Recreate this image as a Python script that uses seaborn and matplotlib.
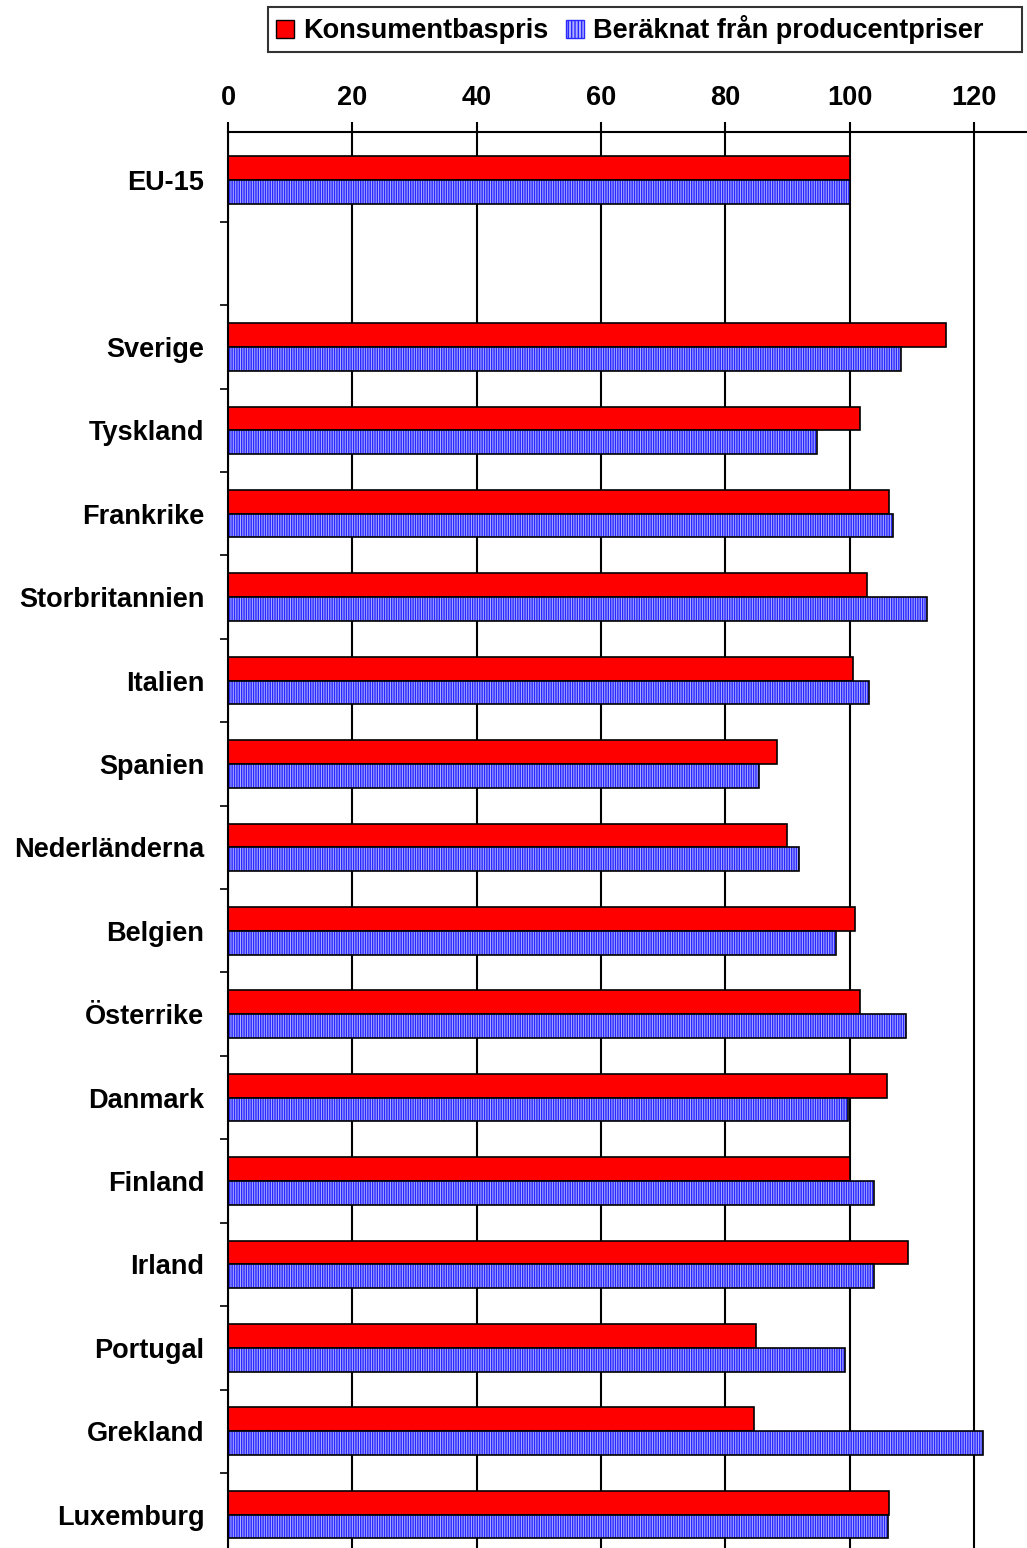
import numpy as np
import pandas as pd
import matplotlib.pyplot as plt
import matplotlib.patches as mpatches
import seaborn as sns

# ── DATA ─────────────────────────────────────────────────────
countries = ["EU-15", " ", "Sverige", "Tyskland", "Frankrike", "Storbritannien",
             "Italien", "Spanien", "Nederländerna", "Belgien", "Österrike",
             "Danmark", "Finland", "Irland", "Portugal", "Grekland", "Luxemburg"]
konsument = [100, np.nan, 115.5, 101.7, 106.3, 102.8, 100.5, 88.3, 89.9,
             100.9, 101.7, 106.0, 100.0, 109.4, 84.9, 84.6, 106.3]
producent = [100, np.nan, 108.3, 94.7, 107.0, 112.4, 103.1, 85.4, 91.8,
             97.8, 109.1, 99.7, 103.9, 103.9, 99.2, 121.4, 106.2]
series_names = ["Konsumentbaspris", "Beräknat från producentpriser"]
x_ticks = [0, 20, 40, 60, 80, 100, 120]

df = pd.DataFrame({
    "Land": countries * 2,
    "Serie": [series_names[0]] * len(countries) + [series_names[1]] * len(countries),
    "Index": konsument + producent,
})

sns.set_style("white")
plt.rcParams["font.family"] = ["Liberation Sans", "DejaVu Sans"]
plt.rcParams["font.weight"] = "bold"
plt.rcParams["text.color"] = "black"
plt.rcParams["xtick.color"] = "black"
plt.rcParams["ytick.color"] = "black"

FS = 19.5
BLUE_FACE = "#b0b0ff"
BLUE_HATCH = "#2828ff"

fig = plt.figure(figsize=(10.27, 15.48), dpi=100)
ax = fig.add_axes([228 / 1027, 0.0, 1 - 228 / 1027, 1 - 132 / 1548])

sns.barplot(data=df, y="Land", x="Index", hue="Serie", order=countries,
            hue_order=series_names, palette=["#ff0000", BLUE_FACE],
            width=0.57, dodge=True, orient="h", ax=ax, legend=False,
            saturation=1, edgecolor="black", linewidth=1.2)

# blue bars: vertical hatch + black outline on top
for p in list(ax.containers[1]):
    p.set_hatch("|||||||")
    p.set_edgecolor(BLUE_HATCH)
    p.set_linewidth(0)
    ax.add_patch(mpatches.Rectangle(p.get_xy(), p.get_width(), p.get_height(),
                                    fill=False, edgecolor="black", linewidth=1.2,
                                    zorder=p.get_zorder() + 0.1))

n = len(countries)
ax.set_xlim(0, 128.5)
ax.set_ylim(16.4, -0.576)
ax.set_xlabel("")
ax.set_ylabel("")

# x axis on top
ax.xaxis.tick_top()
ax.set_xticks(x_ticks)
ax.set_xticklabels([str(t) for t in x_ticks], fontsize=FS, fontweight="bold")
ax.tick_params(axis="x", direction="out", length=7, width=1.5, pad=8,
               top=True, bottom=False, colors="black")

# y ticks: labels at centers, marks at category borders
ax.set_yticks(range(n))
ax.set_yticklabels(countries, fontsize=FS, fontweight="bold")
ax.tick_params(axis="y", which="major", length=0, pad=17)
ax.set_yticks([i + 0.5 for i in range(n - 1)], minor=True)
ax.tick_params(axis="y", which="minor", direction="out", length=6, width=1.2,
               left=True, color="black")

ax.grid(True, axis="x", color="black", linewidth=1.5)
ax.grid(False, axis="y")
ax.set_axisbelow(True)

for side in ["right", "bottom"]:
    ax.spines[side].set_visible(False)
for side in ["top", "left"]:
    ax.spines[side].set_visible(True)
    ax.spines[side].set_color("black")
    ax.spines[side].set_linewidth(1.5)

# legend (box in the original has extra room on the right)
handles = [
    mpatches.Patch(facecolor="#ff0000", edgecolor="black", linewidth=1.0),
    mpatches.Patch(facecolor=BLUE_FACE, edgecolor=BLUE_HATCH, hatch="|||||", linewidth=1.0),
]
labels = [series_names[0], series_names[1] + "    "]
leg = fig.legend(handles, labels, loc="upper left",
                 bbox_to_anchor=(268 / 1027, 1 - 7 / 1548), ncol=2,
                 frameon=True, fancybox=False, edgecolor="black",
                 prop={"size": FS, "weight": "bold"},
                 handlelength=0.65, handleheight=0.65, handletextpad=0.35,
                 columnspacing=0.65, borderpad=0.3, borderaxespad=0)
leg.get_frame().set_linewidth(1.5)

fig.savefig("out.png", dpi=100)
